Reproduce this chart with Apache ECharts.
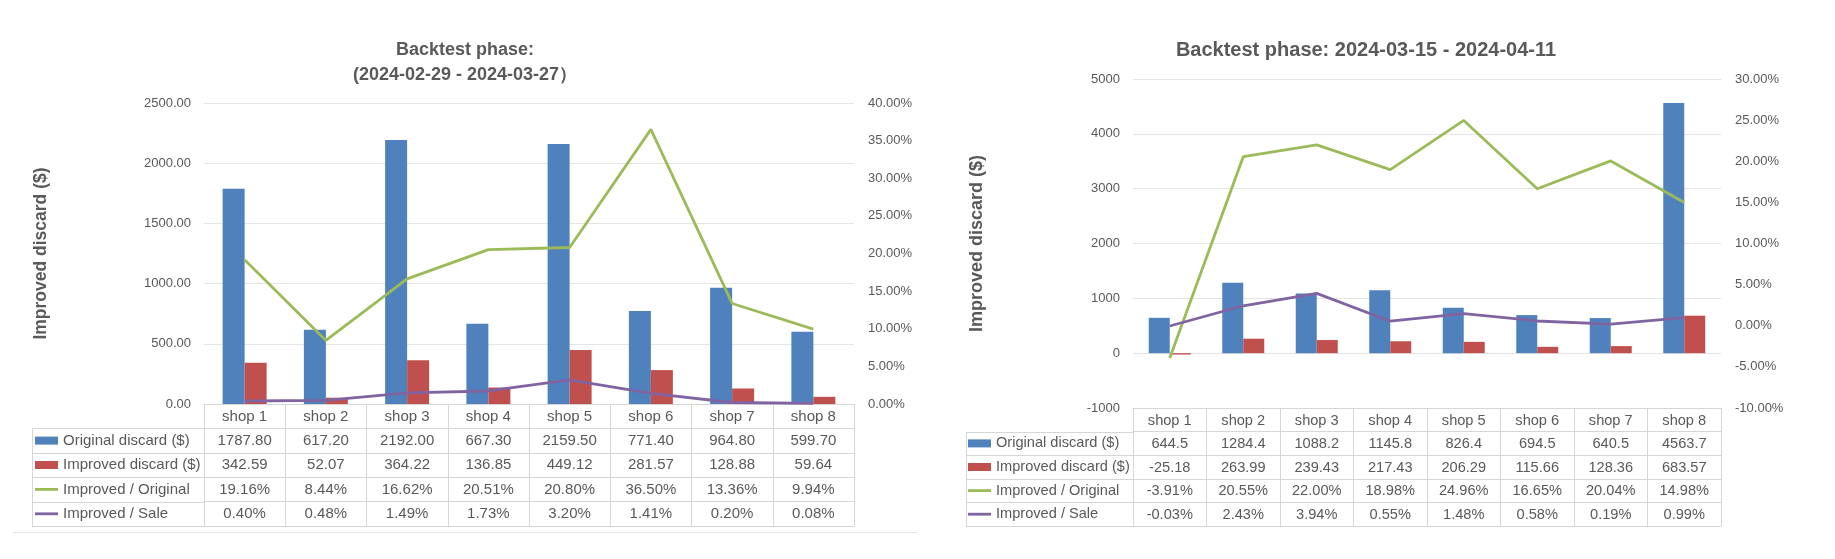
<!DOCTYPE html>
<html><head><meta charset="utf-8">
<script src="https://cdn.jsdelivr.net/npm/echarts@6/dist/echarts.min.js"></script>
<style>html,body{margin:0;padding:0;background:#fff}#c{width:1835px;height:559px}</style>
</head><body><div id="c"></div>
<script>
// ---------- data ----------
const shops = ['shop 1','shop 2','shop 3','shop 4','shop 5','shop 6','shop 7','shop 8'];
const seriesNames = ['Original discard ($)','Improved discard ($)','Improved / Original','Improved / Sale'];

const title1 = 'Backtest phase:\n(2024-02-29 - 2024-03-27）';
const original1 = [1787.80, 617.20, 2192.00, 667.30, 2159.50, 771.40, 964.80, 599.70];
const improved1 = [342.59, 52.07, 364.22, 136.85, 449.12, 281.57, 128.88, 59.64];
const impOrig1  = [19.16, 8.44, 16.62, 20.51, 20.80, 36.50, 13.36, 9.94];
const impSale1  = [0.40, 0.48, 1.49, 1.73, 3.20, 1.41, 0.20, 0.08];
const leftTicks1  = [0, 500, 1000, 1500, 2000, 2500];
const rightTicks1 = [0, 5, 10, 15, 20, 25, 30, 35, 40];

const title2 = 'Backtest phase: 2024-03-15 - 2024-04-11';
const original2 = [644.5, 1284.4, 1088.2, 1145.8, 826.4, 694.5, 640.5, 4563.7];
const improved2 = [-25.18, 263.99, 239.43, 217.43, 206.29, 115.66, 128.36, 683.57];
const impOrig2  = [-3.91, 20.55, 22.00, 18.98, 24.96, 16.65, 20.04, 14.98];
const impSale2  = [-0.03, 2.43, 3.94, 0.55, 1.48, 0.58, 0.19, 0.99];
const leftTicks2  = [-1000, 0, 1000, 2000, 3000, 4000, 5000];
const rightTicks2 = [-10, -5, 0, 5, 10, 15, 20, 25, 30];

const yName = 'Improved discard ($)';

// ---------- styles ----------
const colors = ['#4F81BD', '#C0504D', '#9BBB59', '#8064A2'];
const textColor = '#595959';
const gridColor = '#E4E4E4';
const tableColor = '#D6D6D6';
const FONT = '"Liberation Sans", Arial, sans-serif';
// thin horizontal bar inside a 23x8 box (corner points keep the box size)
const LINE_ICON = 'path://M0,0 L0,0 M0,2.6 L23,2.6 L23,5.4 L0,5.4 Z M23,8 L23,8';

const panels = [
  { title: title1, original: original1, improved: improved1, impOrig: impOrig1, impSale: impSale1,
    leftTicks: leftTicks1, rightTicks: rightTicks1, origDec: 2, leftDec: 2,
    left: 204, width: 650, top: 103, height: 301, rowH: 24.4, tableLeft: 32,
    barWidth: 22, titleX: 465, titleTop: 38, titleSize: 18, nameX: 41, nameSize: 17.5, legendLeft: 35, tableFont: 15 },
  { title: title2, original: original2, improved: improved2, impOrig: impOrig2, impSale: impSale2,
    leftTicks: leftTicks2, rightTicks: rightTicks2, origDec: 1, leftDec: 0,
    left: 1133, width: 588, top: 79, height: 329, rowH: 23.6, tableLeft: 966,
    barWidth: 21, titleX: 1366, titleTop: 38, titleSize: 20, nameX: 977, nameSize: 18, legendLeft: 968, tableFont: 14.6 }
];

const option = {
  animation: false,
  backgroundColor: '#fff',
  textStyle: { fontFamily: FONT },
  title: [], grid: [], xAxis: [], yAxis: [], series: [], legend: [], graphic: []
};

panels.forEach(function (p, gi) {
  const gridBottom = p.top + p.height;
  const xBase = option.xAxis.length;
  const yBase = option.yAxis.length;

  option.title.push({
    text: p.title, left: p.titleX, top: p.titleTop, padding: 0,
    textAlign: 'center', textVerticalAlign: 'top',
    textStyle: { fontFamily: FONT, fontSize: p.titleSize, fontWeight: 'bold', color: textColor, lineHeight: 25 }
  });

  option.grid.push({ left: p.left, top: p.top, width: p.width, height: p.height,
    containLabel: false, outerBoundsMode: 'none' });

  const pct = v => v.toFixed(2) + '%';
  const rowTexts = [
    p.original.map(v => v.toFixed(p.origDec)),
    p.improved.map(v => v.toFixed(2)),
    p.impOrig.map(pct),
    p.impSale.map(pct)
  ];
  const labelBase = { interval: 0, margin: 5, fontSize: p.tableFont, color: textColor, fontFamily: FONT };

  // main category axis (shop row) + vertical table lines via ticks
  option.xAxis.push({
    gridIndex: gi, type: 'category', data: shops, position: 'bottom', boundaryGap: true,
    axisLine: { show: true, onZero: false, lineStyle: { color: tableColor, width: 1 } },
    axisTick: { show: true, interval: 0, length: p.rowH * 5, lineStyle: { color: tableColor, width: 1 } },
    axisLabel: Object.assign({}, labelBase),
    splitLine: { show: false }
  });
  // data rows of the table
  rowTexts.forEach(function (row, k) {
    option.xAxis.push({
      gridIndex: gi, type: 'category', data: shops, position: 'bottom', offset: p.rowH * (k + 1),
      axisLine: { show: true, onZero: false, lineStyle: { color: tableColor, width: 1 } },
      axisTick: { show: false },
      axisLabel: Object.assign({}, labelBase, { formatter: (v, i) => row[i] }),
      splitLine: { show: false }
    });
  });
  // bottom border of the table
  option.xAxis.push({
    gridIndex: gi, type: 'category', data: shops, position: 'bottom', offset: p.rowH * 5,
    axisLine: { show: true, onZero: false, lineStyle: { color: tableColor, width: 1 } },
    axisTick: { show: false }, axisLabel: { show: false }, splitLine: { show: false }
  });

  const lt = p.leftTicks, rt = p.rightTicks;
  option.yAxis.push({
    gridIndex: gi, type: 'value', position: 'left',
    min: lt[0], max: lt[lt.length - 1], interval: lt[1] - lt[0],
    axisLine: { show: false }, axisTick: { show: false },
    splitLine: { show: true, lineStyle: { color: gridColor, width: 1 } },
    axisLabel: { margin: 13, fontSize: 13, color: textColor, fontFamily: FONT, formatter: v => v.toFixed(p.leftDec) },
    name: yName, nameLocation: 'middle', nameRotate: 90,
    nameGap: p.left - (p.nameX + p.nameSize / 2),
    nameTextStyle: { fontFamily: FONT, fontSize: p.nameSize, fontWeight: 'bold', color: textColor }
  });
  option.yAxis.push({
    gridIndex: gi, type: 'value', position: 'right',
    min: rt[0], max: rt[rt.length - 1], interval: rt[1] - rt[0],
    axisLine: { show: false }, axisTick: { show: false }, splitLine: { show: false },
    axisLabel: { margin: 14, fontSize: 13, color: textColor, fontFamily: FONT, formatter: v => v.toFixed(2) + '%' }
  });

  option.series.push(
    { type: 'bar', name: seriesNames[0], xAxisIndex: xBase, yAxisIndex: yBase, data: p.original,
      barWidth: p.barWidth, barGap: '0%', itemStyle: { color: colors[0] } },
    { type: 'bar', name: seriesNames[1], xAxisIndex: xBase, yAxisIndex: yBase, data: p.improved,
      barWidth: p.barWidth, barGap: '0%', itemStyle: { color: colors[1] } },
    { type: 'line', name: seriesNames[2], xAxisIndex: xBase, yAxisIndex: yBase + 1, data: p.impOrig,
      symbol: 'none', z: 5, lineStyle: { width: 2.8, color: colors[2] }, itemStyle: { color: colors[2] } },
    { type: 'line', name: seriesNames[3], xAxisIndex: xBase, yAxisIndex: yBase + 1, data: p.impSale,
      symbol: 'none', z: 5, lineStyle: { width: 2.8, color: colors[3] }, itemStyle: { color: colors[3] } }
  );

  // legend inside the table's first column
  const lineH = 20;
  option.legend.push({
    orient: 'vertical', left: p.legendLeft, top: gridBottom + 1.5 * p.rowH - lineH / 2,
    padding: 0, itemWidth: 23, itemHeight: 8, itemGap: p.rowH - lineH, selectedMode: false,
    textStyle: { fontFamily: FONT, fontSize: p.tableFont, lineHeight: lineH, color: textColor },
    data: [
      { name: seriesNames[0], icon: 'rect', itemStyle: { borderWidth: 0 } },
      { name: seriesNames[1], icon: 'rect', itemStyle: { borderWidth: 0 } },
      { name: seriesNames[2], icon: LINE_ICON, itemStyle: { color: colors[2], borderWidth: 0 } },
      { name: seriesNames[3], icon: LINE_ICON, itemStyle: { color: colors[3], borderWidth: 0 } }
    ]
  });

  // borders of the legend column of the table
  const px = v => Math.round(v) + 0.5;
  for (let k = 1; k <= 5; k++) {
    const y = px(gridBottom + k * p.rowH);
    option.graphic.push({ type: 'line', silent: true,
      shape: { x1: p.tableLeft, y1: y, x2: p.left, y2: y },
      style: { stroke: tableColor, lineWidth: 1 } });
  }
  option.graphic.push({ type: 'line', silent: true,
    shape: { x1: px(p.tableLeft), y1: px(gridBottom + p.rowH), x2: px(p.tableLeft), y2: px(gridBottom + 5 * p.rowH) },
    style: { stroke: tableColor, lineWidth: 1 } });
});

// separator under the first chart
option.graphic.push({ type: 'line', silent: true,
  shape: { x1: 13, y1: 532.5, x2: 917, y2: 532.5 },
  style: { stroke: '#E6E6E6', lineWidth: 1 } });

const chart = echarts.init(document.getElementById('c'), null, { renderer: 'canvas' });
chart.setOption(option);
</script>
</body></html>
